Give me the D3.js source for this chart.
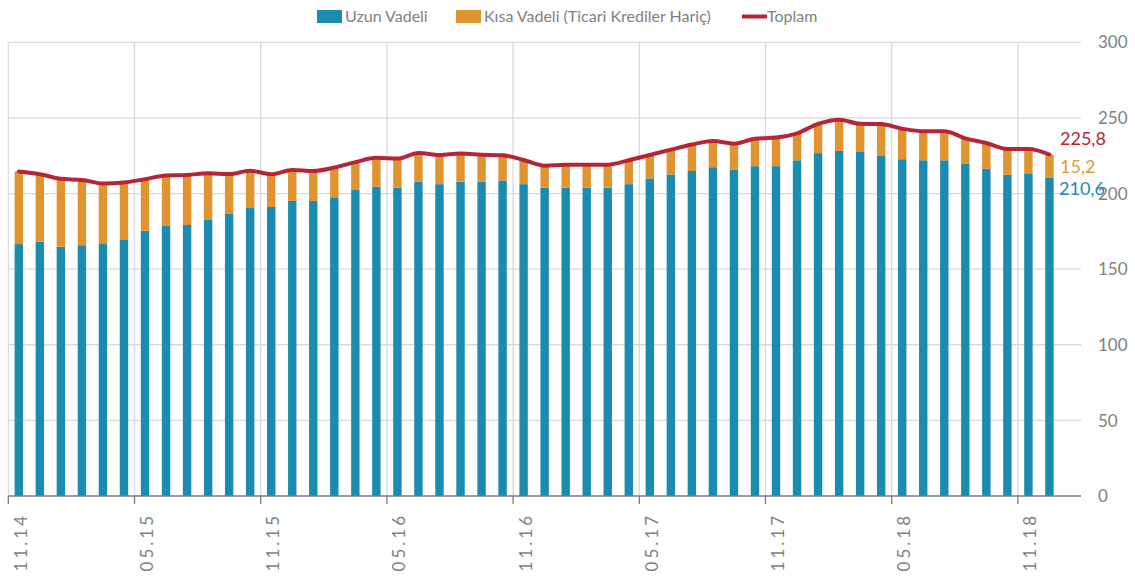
<!DOCTYPE html>
<html>
<head>
<meta charset="utf-8">
<script src="https://d3js.org/d3.v7.min.js"></script>
<style>
	body { margin: 0; background: #fff; }
	svg { display: block; font-family: Lato, 'Open Sans', sans-serif; }
</style>
</head>
<body>
<svg id="chart" width="1135" height="577"></svg>
<script>
// aylar: 11.14 - 12.18
var months = ['11.14', '12.14',
	'01.15', '02.15', '03.15', '04.15', '05.15', '06.15', '07.15', '08.15', '09.15', '10.15', '11.15', '12.15',
	'01.16', '02.16', '03.16', '04.16', '05.16', '06.16', '07.16', '08.16', '09.16', '10.16', '11.16', '12.16',
	'01.17', '02.17', '03.17', '04.17', '05.17', '06.17', '07.17', '08.17', '09.17', '10.17', '11.17', '12.17',
	'01.18', '02.18', '03.18', '04.18', '05.18', '06.18', '07.18', '08.18', '09.18', '10.18', '11.18', '12.18'];

var uzunVadeli = [166.6, 168.2, 164.8, 165.8, 166.6, 169.7, 175.4, 178.5, 179.2, 182.5,
	186.5, 190.4, 191.1, 195.1, 195.1, 197.5, 202.3, 204.5, 203.9, 207.8,
	206.2, 207.8, 207.8, 208.6, 206.2, 203.9, 203.9, 203.9, 203.9, 206.2,
	210.0, 212.6, 214.9, 217.4, 215.8, 218.1, 218.1, 222.0, 226.7, 228.2,
	227.5, 225.2, 222.7, 222.0, 222.0, 219.6, 216.3, 212.4, 213.4, 210.6];

var kisaVadeli = [48.0, 44.6, 44.9, 43.2, 40.0, 37.6, 34.1, 33.5, 33.1, 30.9,
	26.4, 24.6, 21.7, 20.5, 19.8, 19.7, 18.5, 19.1, 19.2, 19.0,
	19.3, 18.6, 17.9, 16.7, 16.0, 14.5, 15.1, 15.1, 15.2, 15.8,
	15.5, 16.4, 17.5, 17.4, 17.2, 18.1, 18.9, 17.8, 19.3, 20.6,
	18.6, 20.7, 20.2, 19.2, 19.2, 16.9, 17.1, 17.1, 16.1, 15.2];

var toplam = [214.6, 212.8, 209.7, 209.0, 206.6, 207.3, 209.5, 212.0, 212.3, 213.4,
	212.9, 215.0, 212.8, 215.6, 214.9, 217.2, 220.8, 223.6, 223.1, 226.8,
	225.5, 226.4, 225.7, 225.3, 222.2, 218.4, 219.0, 219.0, 219.1, 222.0,
	225.5, 229.0, 232.4, 234.8, 233.0, 236.2, 237.0, 239.8, 246.0, 248.8,
	246.1, 245.9, 242.9, 241.2, 241.2, 236.5, 233.4, 229.5, 229.5, 225.8];

var yTicks = [0, 50, 100, 150, 200, 250, 300];

var seriesNames = ['Uzun Vadeli', 'Kısa Vadeli (Ticari Krediler Hariç)', 'Toplam'];

var blue = '#1b8bb0';
var orange = '#e0942f';
var red = '#b42537';
var grey = '#7f7f7f';

var svg = d3.select('svg#chart');

var plotLeft = 8.3;
var plotRight = 1081;
var plotTop = 42.3;
var plotBottom = 496;

// one empty slot at the right end
var step = (plotRight - plotLeft) / (months.length + 1);

var xScale = d3.scaleBand()
	.domain(months)
	.range([plotLeft, plotRight - step]);

var yScale = d3.scaleLinear()
	.domain([0, 300])
	.range([plotBottom, plotTop]);

var barW = step * 0.4;

var data = months.map(function (m, i) {
	return { month: m, uzun: uzunVadeli[i], kisa: kisaVadeli[i], toplam: toplam[i] };
});

var tickMonths = months.filter(function (d, i) {
	return i % 6 === 0;
});

// grid
svg.append('g')
	.selectAll('line')
	.data(yTicks.filter(function (d) { return d > 0; }))
	.enter()
	.append('line')
	.attr('x1', plotLeft)
	.attr('x2', plotRight)
	.attr('y1', function (d) { return yScale(d); })
	.attr('y2', function (d) { return yScale(d); })
	.style('stroke', '#d9d9d9')
	.style('stroke-width', '1.3px');

svg.append('g')
	.selectAll('line')
	.data(tickMonths)
	.enter()
	.append('line')
	.attr('x1', function (d) { return xScale(d); })
	.attr('x2', function (d) { return xScale(d); })
	.attr('y1', plotTop)
	.attr('y2', plotBottom)
	.style('stroke', '#d9d9d9')
	.style('stroke-width', '1.3px');

// bars
var bars = svg.append('g');

bars.selectAll('rect.uzun')
	.data(data)
	.enter()
	.append('rect')
	.attr('class', 'uzun')
	.attr('x', function (d) { return xScale(d.month) + step / 2 - barW / 2; })
	.attr('width', barW)
	.attr('y', function (d) { return yScale(d.uzun); })
	.attr('height', function (d) { return yScale(0) - yScale(d.uzun); })
	.style('fill', blue);

bars.selectAll('rect.kisa')
	.data(data)
	.enter()
	.append('rect')
	.attr('class', 'kisa')
	.attr('x', function (d) { return xScale(d.month) + step / 2 - barW / 2; })
	.attr('width', barW)
	.attr('y', function (d) { return yScale(d.uzun + d.kisa); })
	.attr('height', function (d) { return yScale(d.uzun) - yScale(d.uzun + d.kisa); })
	.style('fill', orange);

// toplam line
var line = d3.line()
	.x(function (d) { return xScale(d.month) + step / 2; })
	.y(function (d) { return yScale(d.toplam); })
	.curve(d3.curveMonotoneX);

svg.append('path')
	.datum(data)
	.attr('d', line)
	.style('fill', 'none')
	.style('stroke', red)
	.style('stroke-width', '4px')
	.style('stroke-linejoin', 'round')
	.style('stroke-linecap', 'round');

// x axis
var xAxis = d3.axisBottom(xScale)
	.tickValues(tickMonths)
	.tickSize(8)
	.tickFormat('');

var xg = svg.append('g')
	.attr('transform', 'translate(0,' + plotBottom + ')')
	.call(xAxis);

xg.select('.domain').remove();
xg.selectAll('.tick')
	.attr('transform', function (d) { return 'translate(' + xScale(d) + ',0)'; });
xg.selectAll('.tick line')
	.style('stroke', '#7a7a7a')
	.style('stroke-width', '1.3px');

svg.append('line')
	.attr('x1', plotLeft)
	.attr('x2', plotRight)
	.attr('y1', plotBottom)
	.attr('y2', plotBottom)
	.style('stroke', '#7a7a7a')
	.style('stroke-width', '1.3px');

svg.append('g')
	.selectAll('text')
	.data(tickMonths)
	.enter()
	.append('text')
	.text(function (d) { return d; })
	.attr('transform', function (d) {
		return 'translate(' + (xScale(d) + 18.5) + ',' + 513 + ') rotate(-90)';
	})
	.style('text-anchor', 'end')
	.style('font-size', '17px')
	.style('letter-spacing', '3px')
	.style('fill', grey);

// y axis (right side)
svg.append('g')
	.selectAll('text')
	.data(yTicks)
	.enter()
	.append('text')
	.text(function (d) { return d; })
	.attr('x', 1098)
	.attr('y', function (d) { return yScale(d); })
	.attr('dy', '0.36em')
	.style('font-size', '17px')
	.style('fill', grey);

// last values
var last = data[data.length - 1];
var lx = 1060;

svg.append('text')
	.text(d3.format('.1f')(last.toplam).replace('.', ','))
	.attr('x', lx)
	.attr('y', yScale(last.toplam) - 10)
	.style('font-size', '18px')
	.style('fill', red);

svg.append('text')
	.text(d3.format('.1f')(last.kisa).replace('.', ','))
	.attr('x', lx)
	.attr('y', yScale(last.uzun + last.kisa / 2) + 7)
	.style('font-size', '18px')
	.style('fill', '#e39a36');

svg.append('text')
	.text(d3.format('.1f')(last.uzun).replace('.', ','))
	.attr('x', lx - 1)
	.attr('y', yScale(last.uzun) + 17)
	.style('font-size', '18px')
	.style('fill', blue);

// legend
var legend = svg.append('g');

legend.append('rect')
	.attr('x', 317).attr('y', 10)
	.attr('width', 25).attr('height', 13)
	.style('fill', blue);
legend.append('text')
	.text(seriesNames[0])
	.attr('x', 345).attr('y', 22)
	.style('font-size', '16px')
	.style('fill', grey);

legend.append('rect')
	.attr('x', 456).attr('y', 10)
	.attr('width', 25).attr('height', 13)
	.style('fill', orange);
legend.append('text')
	.text(seriesNames[1])
	.attr('x', 484).attr('y', 22)
	.style('font-size', '16px')
	.style('fill', grey);

legend.append('line')
	.attr('x1', 742).attr('x2', 767)
	.attr('y1', 16.5).attr('y2', 16.5)
	.style('stroke', red)
	.style('stroke-width', '4px');
legend.append('text')
	.text(seriesNames[2])
	.attr('x', 767).attr('y', 22)
	.style('font-size', '16px')
	.style('fill', grey);
</script>
</body>
</html>
